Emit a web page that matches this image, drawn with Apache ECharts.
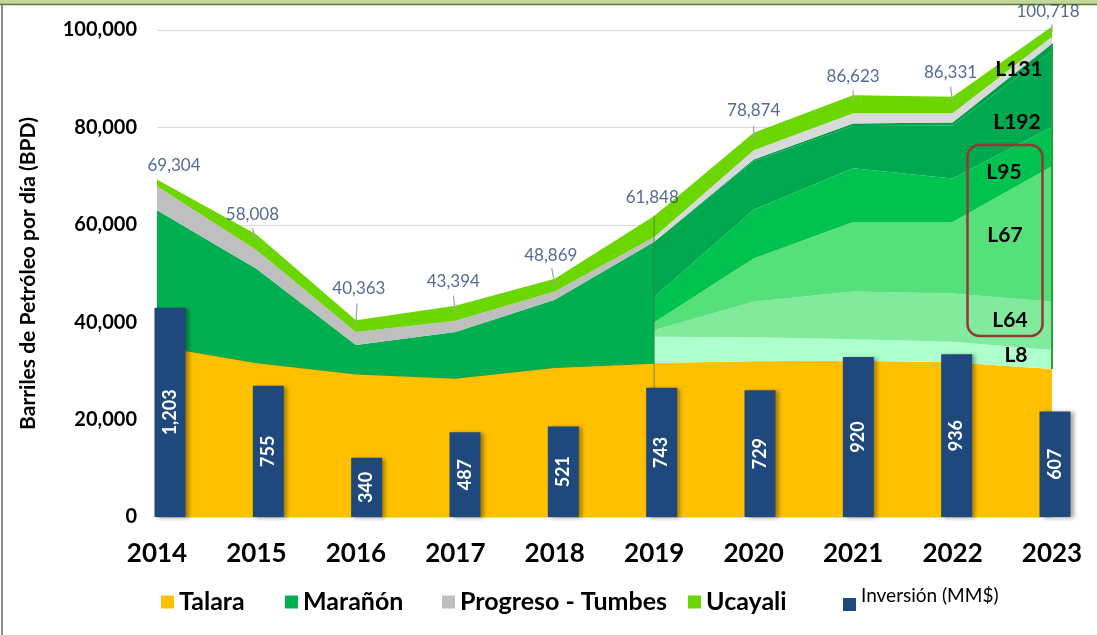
<!DOCTYPE html>
<html>
<head>
<meta charset="utf-8">
<script src="https://cdn.jsdelivr.net/npm/echarts@6/dist/echarts.min.js"></script>
<style>
  html, body { margin: 0; padding: 0; background: #fff; }
  #chart { width: 1097px; height: 635px; }
</style>
</head>
<body>
<div id="chart"></div>
<script>
// produccion por cuenca (BPD)
var years = ['2014', '2015', '2016', '2017', '2018', '2019', '2020', '2021', '2022', '2023'];
var talara = [35200, 31700, 29400, 28500, 30700, 31600, 32000, 32100, 31800, 30400];
var maranon = [27800, 19300, 5900, 9500, 13900, 24900]; // 2014-2019, despues por lotes
var progreso = [4900, 3800, 2700, 2300, 1700, 1000, 1900, 2100, 1900, 1400];
var ucayali = [1400, 3200, 2400, 3100, 2600, 4300, 3600, 3700, 3400, 2100];
var totals = [69304, 58008, 40363, 43394, 48869, 61848, 78874, 86623, 86331, 100718];

// lotes de Marañon desde 2019
var l8 = [5400, 4900, 4400, 4200, 3900];
var l64 = [1400, 7300, 9800, 9900, 9900];
var l67 = [1600, 8900, 14300, 14700, 27800];
var l95 = [5200, 10000, 11000, 8900, 8100];
var l192 = [11300, 10000, 8700, 10900, 15600];
var l131 = [0, 300, 500, 600, 1500];

// inversion (MM$)
var inversion = [1203, 755, 340, 487, 521, 743, 729, 920, 936, 607];

// where label / leader tick sit relative to the point (px)
var labelNudge = [[17, -14], [-4, -20], [3, -32], [-2, -24], [-4, -23], [-2, -18], [0, -22], [0, -19], [-2, -24], [-4, -15]];
var tickNudge = [null, [-4, -6], [1, -17], [-2, -10], [-3, -11], null, [0, -7], [0, -5], [-2, -10], [0, -2]];

var FONT = 'Lato';
var cut = years.indexOf('2019');
var last = years.length - 1;

function fmt(v) {
  return String(Math.round(v)).replace(/\B(?=(\d{3})+(?!\d))/g, ',');
}
// keep only the years up to / from 2019, null elsewhere
function pre(arr) {
  return years.map(function (y, i) { return i <= cut ? arr[i] : null; });
}
function post(arr) {
  return years.map(function (y, i) { return i >= cut ? arr[i] : null; });
}
function lot(arr) {
  return years.map(function (y, i) { return i >= cut ? arr[i - cut] : null; });
}

function area(name, stack, data, color, line) {
  return {
    name: name, type: 'line', stack: stack, xAxisIndex: 0, yAxisIndex: 0,
    data: data, symbol: 'none', silent: true, connectNulls: false, clip: false,
    lineStyle: line || { width: 0, opacity: 0 },
    itemStyle: { color: color },
    areaStyle: { color: color, opacity: 1 }
  };
}

var lotTop = talara[last] + l8[4] + l64[4] + l67[4] + l95[4] + l192[4] + l131[4];
var edges = [[years[cut], 0, totals[cut]], [years[last], talara[last], lotTop]];

var chart = echarts.init(document.getElementById('chart'));

var legendBase = {
  orient: 'horizontal', top: 588, padding: 0, itemGap: 0,
  icon: 'rect', itemWidth: 13, itemHeight: 13, selectedMode: false,
  textStyle: { fontFamily: FONT, fontWeight: 'bold', fontSize: 25, color: '#000', lineHeight: 28 }
};
function legendAt(name, left) {
  return echarts.util.merge({ data: [name], left: left }, legendBase, false);
}

var option = {
  animation: false,
  backgroundColor: '#fff',
  grid: [
    { left: 157, right: 45, top: 30, bottom: 118 },
    { left: 170, right: 42, top: 30, bottom: 118 }
  ],
  xAxis: [
    {
      type: 'category', gridIndex: 0, data: years, boundaryGap: false,
      axisLine: { show: true, lineStyle: { color: '#D9D9D9' } },
      axisTick: { show: false }, splitLine: { show: false },
      axisLabel: { interval: 0, margin: 24, color: '#000', fontFamily: FONT, fontWeight: 'bold', fontSize: 26 }
    },
    { type: 'category', gridIndex: 1, data: years, boundaryGap: false, show: false }
  ],
  yAxis: [
    {
      type: 'value', gridIndex: 0, min: 0, max: 100000, interval: 20000,
      name: 'Barriles de Petróleo por día (BPD)', nameLocation: 'middle', nameGap: 118,
      nameTextStyle: { fontFamily: FONT, fontWeight: 'bold', fontSize: 21, color: '#000' },
      axisLine: { show: false }, axisTick: { show: false },
      splitLine: { lineStyle: { color: '#D9D9D9', width: 1 } },
      axisLabel: { margin: 20, color: '#000', fontFamily: FONT, fontWeight: 'bold', fontSize: 20, formatter: fmt }
    },
    { type: 'value', gridIndex: 1, min: 0, max: 2800, show: false }
  ],
  legend: [
    legendAt('Talara', 161),
    legendAt('Marañón', 285),
    legendAt('Progreso - Tumbes', 442),
    legendAt('Ucayali', 688),
    {
      data: ['Inversión (MM$)'], left: 843, top: 586, padding: 0, itemGap: 0,
      icon: 'rect', itemWidth: 13, itemHeight: 13, selectedMode: false,
      formatter: '{t|{name}}',
      textStyle: {
        fontFamily: FONT, fontSize: 19, color: '#000',
        rich: { t: { fontFamily: FONT, fontSize: 19, lineHeight: 19, color: '#000', padding: [0, 0, 18, 0] } }
      }
    }
  ],
  series: [
    // hasta 2019
    area('Talara', 'pre', pre(talara), '#FFC000', { color: '#22A040', width: 1.2 }),
    area('Marañón', 'pre', maranon.concat(years.slice(cut + 1).map(function () { return null; })), '#00B050'),
    area('Progreso - Tumbes', 'pre', pre(progreso), '#BFBFBF'),
    area('Ucayali', 'pre', pre(ucayali), '#6CD600'),
    // desde 2019, Marañón por lotes
    area('Talara', 'post', post(talara), '#FFC000'),
    area('L8', 'post', lot(l8), '#ADFFCB'),
    area('L64', 'post', lot(l64), '#82EA9C'),
    area('L67', 'post', lot(l67), '#56E07A'),
    area('L95', 'post', lot(l95), '#00C34F'),
    area('L192', 'post', lot(l192), '#00A94F'),
    area('L131', 'post', lot(l131), '#009F4A'),
    area('Progreso - Tumbes', 'post', post(progreso), '#D9D9D9'),
    area('Ucayali', 'post', post(ucayali), '#6CD600'),
    {
      type: 'custom', name: 'edges', xAxisIndex: 0, yAxisIndex: 0, silent: true, z: 3, clip: false,
      data: edges,
      renderItem: function (params, api) {
        var a = api.coord([api.value(0), api.value(1)]);
        var b = api.coord([api.value(0), api.value(2)]);
        var first = params.dataIndex === 0;
        return {
          type: 'line',
          shape: { x1: a[0], y1: a[1], x2: b[0], y2: b[1] },
          style: { stroke: first ? 'rgba(40,90,40,0.5)' : '#2E9E3E', lineWidth: first ? 1.2 : 2 }
        };
      }
    },
    {
      name: 'Inversión (MM$)', type: 'bar', xAxisIndex: 1, yAxisIndex: 1, z: 5,
      data: inversion, barWidth: 31,
      itemStyle: {
        color: '#1F497D',
        shadowColor: 'rgba(0,0,0,0.35)', shadowBlur: 4, shadowOffsetX: 3, shadowOffsetY: 1
      },
      label: {
        show: true, position: 'inside', rotate: 90, color: '#fff',
        fontFamily: FONT, fontWeight: 'bold', fontSize: 18, formatter: function (p) { return fmt(p.value); }
      }
    },
    {
      type: 'custom', name: 'ticks', xAxisIndex: 0, yAxisIndex: 0, silent: true, z: 6, clip: false,
      data: years.map(function (y, i) { return [y, totals[i]]; }),
      renderItem: function (params, api) {
        var t = tickNudge[params.dataIndex];
        if (!t) return null;
        var p = api.coord([api.value(0), api.value(1)]);
        return {
          type: 'line',
          shape: { x1: p[0] + t[0], y1: p[1] + t[1], x2: p[0], y2: p[1] + 6 },
          style: { stroke: '#A6A6A6', lineWidth: 1.3 }
        };
      }
    },
    {
      type: 'scatter', name: 'totales', xAxisIndex: 0, yAxisIndex: 0, silent: true, z: 7, clip: false,
      symbolSize: 1, itemStyle: { color: 'rgba(0,0,0,0)' },
      data: years.map(function (y, i) {
        return { value: [y, totals[i]], label: { offset: labelNudge[i] } };
      }),
      label: {
        show: true, position: 'inside', color: '#2A4675',
        fontFamily: FONT, fontSize: 17,
        textShadowColor: 'rgba(0,0,0,0.18)', textShadowBlur: 0, textShadowOffsetX: 1, textShadowOffsetY: 1,
        formatter: function (p) { return fmt(p.value[1]); }
      }
    }
  ],
  graphic: [
    { type: 'rect', left: 0, top: 0, shape: { width: 1097, height: 4 }, style: { fill: '#C4D79B' }, silent: true },
    { type: 'line', shape: { x1: 0, y1: 4.5, x2: 1097, y2: 4.5 }, style: { stroke: '#5E7A33', lineWidth: 1.5 }, silent: true },
    { type: 'line', shape: { x1: 2, y1: 5, x2: 2, y2: 635 }, style: { stroke: '#8C8C8C', lineWidth: 2 }, silent: true },
    { type: 'rect', shape: { x: 967.5, y: 145, width: 75, height: 191, r: 12 }, style: { fill: 'none', stroke: '#953735', lineWidth: 2.5 }, z: 100, silent: true },
    { type: 'text', x: 1019, y: 69, z: 100, style: { text: 'L131', font: 'bold 21px Lato', fill: '#000', align: 'center', verticalAlign: 'middle' } },
    { type: 'text', x: 1017, y: 122, z: 100, style: { text: 'L192', font: 'bold 21px Lato', fill: '#000', align: 'center', verticalAlign: 'middle' } },
    { type: 'text', x: 1004, y: 172, z: 100, style: { text: 'L95', font: 'bold 21px Lato', fill: '#000', align: 'center', verticalAlign: 'middle' } },
    { type: 'text', x: 1005, y: 235, z: 100, style: { text: 'L67', font: 'bold 21px Lato', fill: '#000', align: 'center', verticalAlign: 'middle' } },
    { type: 'text', x: 1010, y: 320, z: 100, style: { text: 'L64', font: 'bold 21px Lato', fill: '#000', align: 'center', verticalAlign: 'middle' } },
    { type: 'text', x: 1016, y: 355, z: 100, style: { text: 'L8', font: 'bold 21px Lato', fill: '#000', align: 'center', verticalAlign: 'middle' } }
  ]
};

chart.setOption(option);
</script>
</body>
</html>
